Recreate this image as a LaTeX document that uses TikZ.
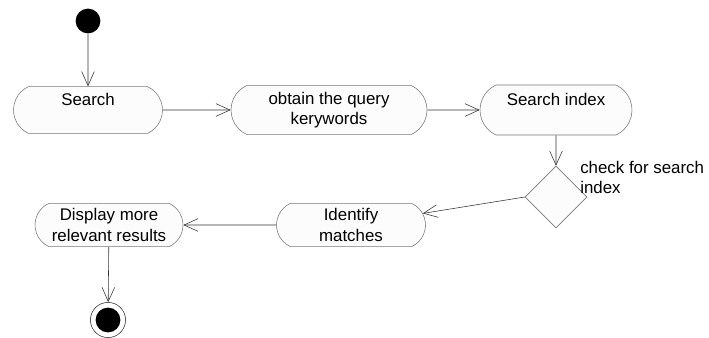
\documentclass[tikz,border=0pt]{standalone}
\usepackage{fontspec}
\setmainfont{Liberation Sans}
\usetikzlibrary{shapes.misc,shapes.geometric,arrows.meta}
\definecolor{linegray}{RGB}{120,120,120}
\definecolor{boxfill}{RGB}{252,252,252}

\begin{document}
\begin{tikzpicture}[
  activity/.style={rounded rectangle,rounded rectangle arc length=130,draw=linegray,fill=boxfill,
    align=center,inner sep=0pt,font=\fontsize{12}{14.5}\selectfont},
  decision/.style={diamond,draw=linegray,fill=boxfill,minimum size=1.55cm,inner sep=0pt},
  flow/.style={draw=black!80,-{Straight Barb[length=10pt,width=9pt]}},
]
\useasboundingbox (0,0) rectangle (17.725,8.425);

\node[circle,fill=black,minimum size=0.62cm,inner sep=0pt] (start) at (2.2,7.9) {};

\node[activity,minimum width=3.725cm,minimum height=1.17cm] (search) at (2.2,5.675) {Search\\\mbox{}};
\node[activity,minimum width=4.9cm,minimum height=1.22cm] (query) at (8.225,5.675) {obtain the query\\kerywords};
\node[activity,minimum width=3.8cm,minimum height=1.25cm] (index) at (13.9,5.675) {Search index\\\mbox{}};
\node[decision] (check) at (13.9,3.5) {};
\node[anchor=north west,align=left,inner sep=0pt,font=\fontsize{12}{14.5}\selectfont] (checklbl) at (14.5,4.4) {check for search\\index};
\node[activity,minimum width=3.725cm,minimum height=1.08cm] (match) at (8.775,2.8) {Identify\\matches};
\node[activity,minimum width=3.7cm,minimum height=1.08cm] (display) at (2.725,2.8) {Display more\\relevant results};

\node[circle,draw=black!80,minimum size=0.88cm,inner sep=0pt] (stop) at (2.7,0.425) {};
\node[circle,fill=black,minimum size=0.62cm,inner sep=0pt] (stopdot) at (stop) {};

\draw[flow] (start) -- (search);
\draw[flow] (search) -- (query);
\draw[flow] (query) -- (index);
\draw[flow] (index) -- (check);
\draw[flow] (check.west) -- (match);
\draw[flow] (match) -- (display);
\draw[flow] (display) -- (stop);
\end{tikzpicture}
\end{document}
